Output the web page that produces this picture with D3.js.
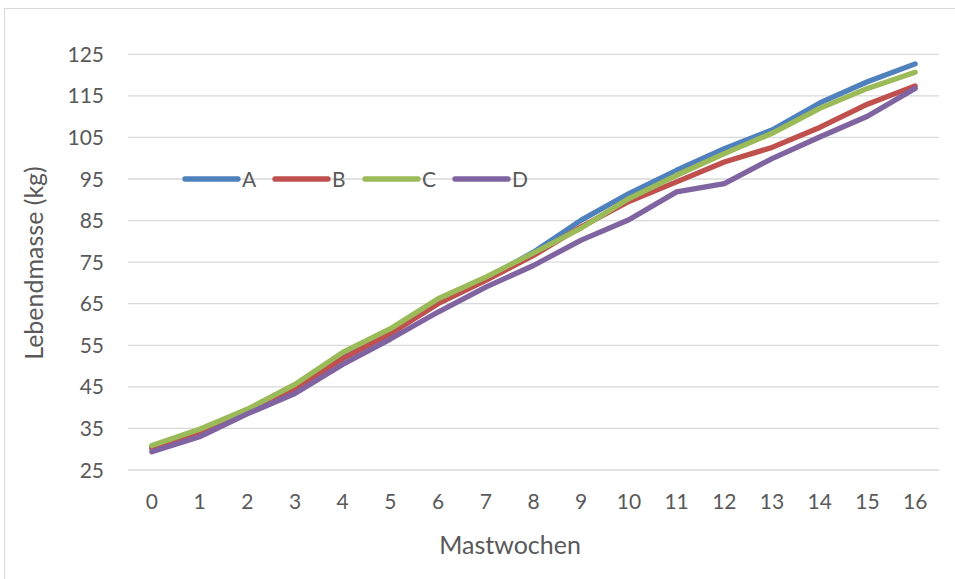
<!DOCTYPE html>
<html><head><meta charset="utf-8">
<script src="https://cdn.jsdelivr.net/npm/d3@7"></script>
<style>body{margin:0;background:#fff}svg{display:block}text{font-family:Lato,"Open Sans",sans-serif;fill:#595959}</style>
</head><body><svg id="c" width="955" height="579"></svg>
<script>
const weeks = ["0","1","2","3","4","5","6","7","8","9","10","11","12","13","14","15","16"];
const seriesNames = ["A","B","C","D"];
const valuesA = [30.5,34.2,39.4,45.0,52.2,58.4,65.6,71.0,77.4,85.1,91.5,97.1,102.3,106.8,113.3,118.4,122.7];
const valuesB = [30.2,33.6,39.0,44.4,51.8,57.8,65.0,70.6,76.6,83.5,89.6,94.3,99.1,102.6,107.4,113.0,117.4];
const valuesC = [30.9,34.8,39.6,45.6,53.3,59.0,66.2,71.4,77.2,83.2,90.3,95.9,101.1,106.0,112.0,116.8,120.7];
const valuesD = [29.4,33.0,38.5,43.4,50.4,56.5,63.0,69.0,74.2,80.3,85.2,91.9,93.9,99.9,105.1,110.1,116.8];
const yTicks = [25,35,45,55,65,75,85,95,105,115,125];
const colors = ["#4F81BD","#C0504D","#9BBB59","#8064A2"];
const allValues = [valuesA,valuesB,valuesC,valuesD];

const svg = d3.select("#c");
// outer chart border
svg.append("path").attr("d","M4.5,579 V8.5 H955").attr("fill","none").attr("stroke","#d9d9d9").attr("stroke-width",1);

const x = d3.scaleBand().domain(weeks).range([128,939]);
const y = d3.scaleLinear().domain([25,125]).range([470,54.3]);

// gridlines
svg.append("g").selectAll("line").data(yTicks).join("line")
  .attr("x1",128).attr("x2",939).attr("y1",d=>y(d)).attr("y2",d=>y(d))
  .attr("stroke","#d9d9d9").attr("stroke-width",1.3);

// y tick labels
svg.append("g").selectAll("text").data(yTicks).join("text")
  .attr("x",104).attr("y",d=>y(d)).attr("dy","0.36em").attr("text-anchor","end")
  .attr("font-size",21).text(d=>d);

// x tick labels
svg.append("g").selectAll("text").data(weeks).join("text")
  .attr("x",d=>x(d)+x.bandwidth()/2).attr("y",501.5).attr("dy","0.36em").attr("text-anchor","middle")
  .attr("font-size",21).text(d=>d);

// axis titles
svg.append("text").attr("x",510).attr("y",554).attr("text-anchor","middle")
  .attr("font-size",25).text("Mastwochen");
svg.append("text").attr("transform","translate(43,263) rotate(-90)").attr("text-anchor","middle")
  .attr("font-size",25).text("Lebendmasse (kg)");

// lines
const line = d3.line().x((d,i)=>x(weeks[i])+x.bandwidth()/2).y(d=>y(d));
svg.append("g").selectAll("path").data(allValues).join("path")
  .attr("d",d=>line(d)).attr("fill","none").attr("stroke",(d,i)=>colors[i])
  .attr("stroke-width",5.3).attr("stroke-linecap","round").attr("stroke-linejoin","round");

// legend
const legX = [185,275,365,455];
const lg = svg.append("g").selectAll("g").data(seriesNames).join("g");
lg.append("line").attr("x1",(d,i)=>legX[i]).attr("x2",(d,i)=>legX[i]+53)
  .attr("y1",y(95)).attr("y2",y(95)).attr("stroke",(d,i)=>colors[i]).attr("stroke-width",5.3).attr("stroke-linecap","round");
lg.append("text").attr("x",(d,i)=>legX[i]+57).attr("y",y(95)).attr("dy","0.36em").attr("font-size",21).text(d=>d);
</script></body></html>
